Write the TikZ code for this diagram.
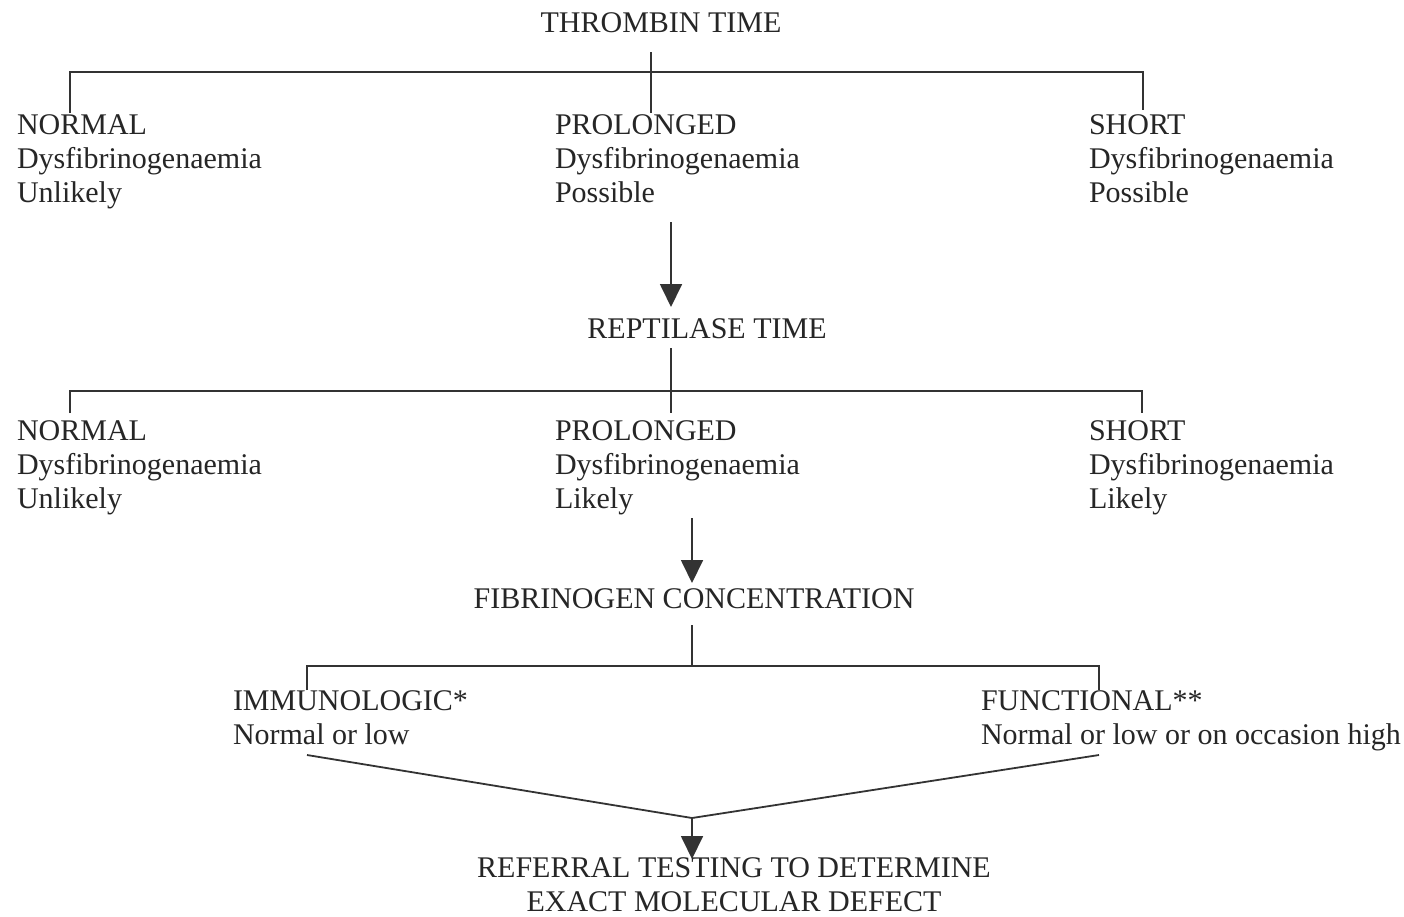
\documentclass[tikz,border=0pt]{standalone}
\usepackage{fontspec}
\setmainfont{Liberation Serif}
\usetikzlibrary{arrows.meta}
\begin{document}
\begin{tikzpicture}[x=1pt,y=-1pt,
  txt/.style={inner sep=0pt,outer sep=0pt,font=\fontsize{30}{34}\selectfont,text=black!85},
  blk/.style={txt,align=left,anchor=base west},
  hdr/.style={txt,align=center,anchor=base},
  ln/.style={line width=1.8pt,draw=black!80},
  arr/.style={ln,-{Triangle[length=23pt,width=22pt]}}]
\useasboundingbox[fill=white] (0,0) rectangle (1404,916);

% level 1 (base anchor of a multi-line node = baseline of its last line)
\node[hdr] (tt) at (661,32) {THROMBIN TIME};
\node[blk] (n1) at (17,202) {NORMAL\\Dysfibrinogenaemia\\Unlikely};
\node[blk] (p1) at (555,202) {PROLONGED\\Dysfibrinogenaemia\\Possible};
\node[blk] (s1) at (1089,202) {SHORT\\Dysfibrinogenaemia\\Possible};
\coordinate (tt-s) at (651,52);
\coordinate (p1-t) at (651,113);
\coordinate (n1-t) at (70,113);
\coordinate (s1-t) at (1143,110);
\coordinate (j1) at (651,72);
\draw[ln] (tt-s) -- (p1-t);
\draw[ln] (n1-t) |- (j1) -| (s1-t);

% arrow to reptilase
\coordinate (a1s) at (671,222);
\coordinate (a1e) at (671,307);
\draw[arr] (a1s) -- (a1e);
\node[hdr] (rt) at (707,338) {REPTILASE TIME};

% level 2
\node[blk] (n2) at (17,508) {NORMAL\\Dysfibrinogenaemia\\Unlikely};
\node[blk] (p2) at (555,508) {PROLONGED\\Dysfibrinogenaemia\\Likely};
\node[blk] (s2) at (1089,508) {SHORT\\Dysfibrinogenaemia\\Likely};
\coordinate (rt-s) at (671,348);
\coordinate (p2-t) at (671,413);
\coordinate (n2-t) at (70,413);
\coordinate (s2-t) at (1142,413);
\coordinate (j2) at (671,391);
\draw[ln] (rt-s) -- (p2-t);
\draw[ln] (n2-t) |- (j2) -| (s2-t);

% arrow to fibrinogen
\coordinate (a2s) at (692,518);
\coordinate (a2e) at (692,583);
\draw[arr] (a2s) -- (a2e);
\node[hdr] (fc) at (694,608) {FIBRINOGEN CONCENTRATION};

% level 3
\node[blk] (im) at (233,744) {IMMUNOLOGIC*\\Normal or low};
\node[blk] (fu) at (981,744) {FUNCTIONAL**\\Normal or low or on occasion high};
\coordinate (fc-s) at (692,625);
\coordinate (j3) at (692,666);
\coordinate (im-t) at (307,690);
\coordinate (fu-t) at (1099,690);
\draw[ln] (fc-s) -- (j3);
\draw[ln] (im-t) |- (j3) -| (fu-t);

% merge
\coordinate (im-b) at (307,755);
\coordinate (fu-b) at (1099,755);
\coordinate (m) at (692,818);
\coordinate (a3e) at (692,859);
\draw[ln] (im-b) -- (m) -- (fu-b);
\draw[arr] (m) -- (a3e);
\node[hdr] (rf) at (734,911) {REFERRAL TESTING TO DETERMINE\\EXACT MOLECULAR DEFECT};
\end{tikzpicture}
\end{document}
